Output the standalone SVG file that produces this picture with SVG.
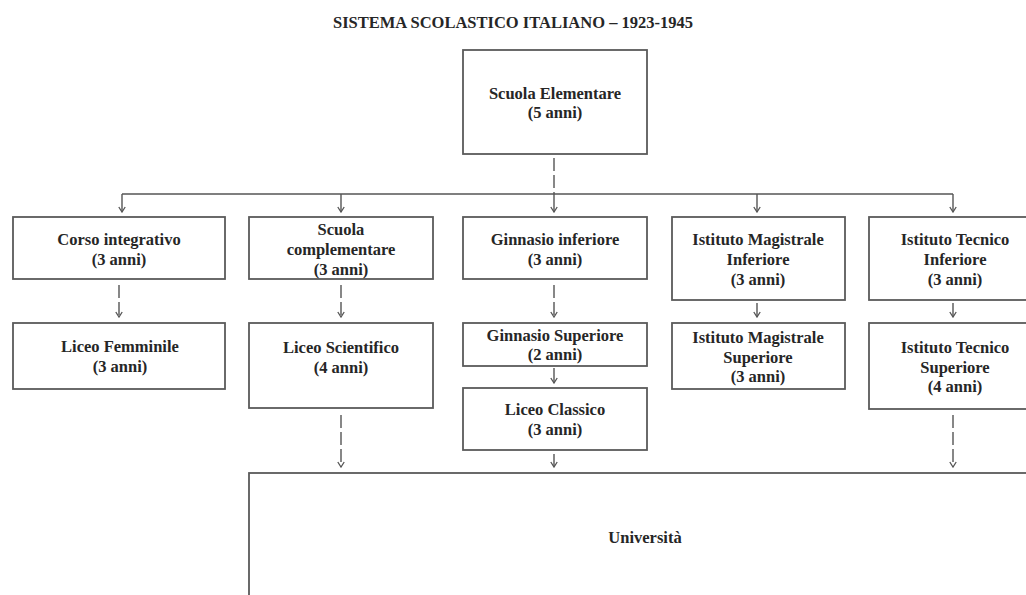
<svg xmlns="http://www.w3.org/2000/svg" width="1026" height="595" viewBox="0 0 1026 595">
<style>
  .box { fill: #ffffff; stroke: #5a5a5a; stroke-width: 1.8; }
  .t { font-family: "Liberation Serif", "Times New Roman", serif; font-weight: bold; font-size: 16.5px; fill: #262626; text-anchor: middle; }
  .title { font-family: "Liberation Serif", "Times New Roman", serif; font-weight: bold; font-size: 16.5px; fill: #262626; text-anchor: middle; }
  .ln { fill: none; stroke: #555555; stroke-width: 1.4; }
  .dash { stroke-dasharray: 13 4; }
</style>
<defs>
  <marker id="arr" markerUnits="userSpaceOnUse" markerWidth="10" markerHeight="10" viewBox="0 0 10 10" refX="9" refY="5" orient="auto">
    <path d="M4,1.8 L9,5 L4,8.2" fill="none" stroke="#555555" stroke-width="1.3"/>
  </marker>
</defs>
<rect width="1026" height="595" fill="#ffffff"/>
<text class="title" x="513" y="28">SISTEMA SCOLASTICO ITALIANO – 1923-1945</text>

<g id="connectors">
  <path class="ln dash" d="M554,158 L554,194"/>
  <path class="ln" d="M122,194 L953,194"/>
  <path class="ln" d="M122,194 L122,212" marker-end="url(#arr)"/>
  <path class="ln" d="M341,194 L341,212" marker-end="url(#arr)"/>
  <path class="ln" d="M554,194 L554,212" marker-end="url(#arr)"/>
  <path class="ln" d="M757,194 L757,212" marker-end="url(#arr)"/>
  <path class="ln" d="M953,194 L953,212" marker-end="url(#arr)"/>
  <path class="ln dash" d="M119,285 L119,317" marker-end="url(#arr)"/>
  <path class="ln dash" d="M341,285 L341,317" marker-end="url(#arr)"/>
  <path class="ln dash" d="M554,285 L554,317" marker-end="url(#arr)"/>
  <path class="ln" d="M757,303 L757,317" marker-end="url(#arr)"/>
  <path class="ln" d="M953,303 L953,317" marker-end="url(#arr)"/>
  <path class="ln" d="M554,368 L554,383" marker-end="url(#arr)"/>
  <path class="ln dash" d="M341,415 L341,467" marker-end="url(#arr)"/>
  <path class="ln" d="M554,454 L554,467" marker-end="url(#arr)"/>
  <path class="ln dash" d="M953,415 L953,467" marker-end="url(#arr)"/>
</g>

<g id="scuola-elementare">
  <rect class="box" x="463" y="50" width="184" height="104"/>
  <text class="t" x="555" y="99">Scuola Elementare</text>
  <text class="t" x="555" y="118">(5 anni)</text>
</g>
<g id="corso-integrativo">
  <rect class="box" x="13" y="217" width="212" height="62"/>
  <text class="t" x="119" y="245">Corso integrativo</text>
  <text class="t" x="119" y="265">(3 anni)</text>
</g>
<g id="scuola-complementare">
  <rect class="box" x="249" y="217" width="184" height="62"/>
  <text class="t" x="341" y="235">Scuola</text>
  <text class="t" x="341" y="255">complementare</text>
  <text class="t" x="341" y="275">(3 anni)</text>
</g>
<g id="ginnasio-inferiore">
  <rect class="box" x="463" y="217" width="184" height="62"/>
  <text class="t" x="555" y="245">Ginnasio inferiore</text>
  <text class="t" x="555" y="265">(3 anni)</text>
</g>
<g id="magistrale-inferiore">
  <rect class="box" x="672" y="217" width="173" height="83"/>
  <text class="t" x="758" y="245">Istituto Magistrale</text>
  <text class="t" x="758" y="265">Inferiore</text>
  <text class="t" x="758" y="285">(3 anni)</text>
</g>
<g id="tecnico-inferiore">
  <rect class="box" x="869" y="217" width="172" height="83"/>
  <text class="t" x="955" y="245">Istituto Tecnico</text>
  <text class="t" x="955" y="265">Inferiore</text>
  <text class="t" x="955" y="285">(3 anni)</text>
</g>
<g id="liceo-femminile">
  <rect class="box" x="13" y="323" width="212" height="66"/>
  <text class="t" x="120" y="352">Liceo Femminile</text>
  <text class="t" x="120" y="372">(3 anni)</text>
</g>
<g id="liceo-scientifico">
  <rect class="box" x="249" y="323" width="184" height="85"/>
  <text class="t" x="341" y="353">Liceo Scientifico</text>
  <text class="t" x="341" y="373">(4 anni)</text>
</g>
<g id="ginnasio-superiore">
  <rect class="box" x="463" y="323" width="184" height="43"/>
  <text class="t" x="555" y="341">Ginnasio Superiore</text>
  <text class="t" x="555" y="360">(2 anni)</text>
</g>
<g id="liceo-classico">
  <rect class="box" x="463" y="388" width="184" height="62"/>
  <text class="t" x="555" y="415">Liceo Classico</text>
  <text class="t" x="555" y="435">(3 anni)</text>
</g>
<g id="magistrale-superiore">
  <rect class="box" x="672" y="323" width="173" height="66"/>
  <text class="t" x="758" y="343">Istituto Magistrale</text>
  <text class="t" x="758" y="363">Superiore</text>
  <text class="t" x="758" y="382">(3 anni)</text>
</g>
<g id="tecnico-superiore">
  <rect class="box" x="869" y="323" width="172" height="86"/>
  <text class="t" x="955" y="353">Istituto Tecnico</text>
  <text class="t" x="955" y="373">Superiore</text>
  <text class="t" x="955" y="392">(4 anni)</text>
</g>
<g id="universita">
  <rect class="box" x="249" y="473" width="800" height="140"/>
  <text class="t" x="645" y="543">Università</text>
</g>
</svg>
